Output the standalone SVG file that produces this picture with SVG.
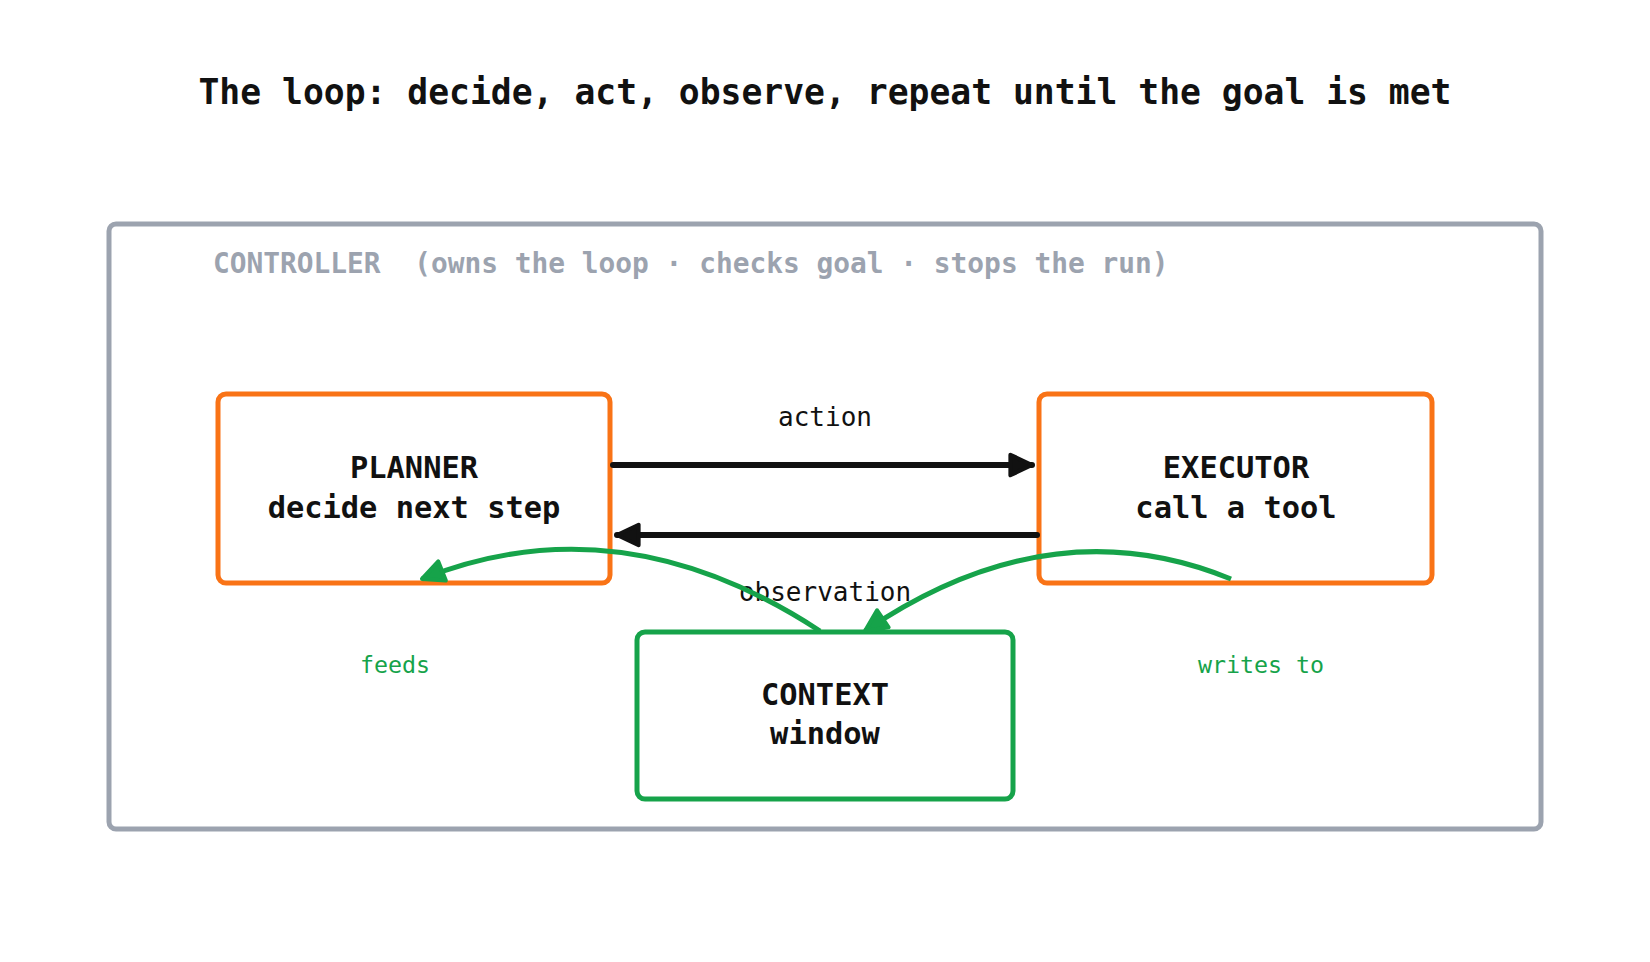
<svg xmlns="http://www.w3.org/2000/svg" width="1650" height="962" viewBox="0 0 1650 962">
<style>
text{font-family:"DejaVu Sans Mono","Liberation Mono",monospace;}
.title{font-size:34.7px;font-weight:bold;fill:#111;}
.ctl{font-size:27.85px;font-weight:bold;fill:#9ca3af;}
.node{font-size:30.4px;font-weight:bold;fill:#111;text-anchor:middle;}
.lbl{font-size:26px;fill:#111;text-anchor:middle;}
.glbl{font-size:23.3px;fill:#16a34a;text-anchor:middle;}
.obox{fill:#fff;stroke:#f97316;stroke-width:5;}
.gbox{fill:#fff;stroke:#16a34a;stroke-width:5;}
.blk{stroke:#111;stroke-width:6;fill:none;stroke-linecap:round;}
.grn{stroke:#16a34a;stroke-width:5;fill:none;}
</style>
<defs>
<marker id="ab" viewBox="0 0 10 10" refX="9" refY="5" markerUnits="userSpaceOnUse" markerWidth="27" markerHeight="27" orient="auto">
<path d="M1,1.2 L9,5 L1,8.8 z" fill="#111" stroke="#111" stroke-width="1.5" stroke-linejoin="round"/>
</marker>
<marker id="ag" viewBox="0 0 10 10" refX="9" refY="5" markerUnits="userSpaceOnUse" markerWidth="27" markerHeight="27" orient="auto">
<path d="M1,1.2 L9,5 L1,8.8 z" fill="#16a34a" stroke="#16a34a" stroke-width="1.5" stroke-linejoin="round"/>
</marker>
</defs>
<rect width="1650" height="962" fill="#fff"/>
<text class="title" x="825" y="104" text-anchor="middle">The loop: decide, act, observe, repeat until the goal is met</text>
<g id="controller">
<rect x="109" y="224" width="1432" height="605" rx="7" fill="none" stroke="#9ca3af" stroke-width="5"/>
<text class="ctl" x="213" y="273" xml:space="preserve">CONTROLLER  (owns the loop · checks goal · stops the run)</text>
</g>
<g id="planner">
<rect class="obox" x="218" y="394" width="392" height="189" rx="8"/>
<text class="node" x="414" y="478">PLANNER</text>
<text class="node" x="414" y="518">decide next step</text>
</g>
<g id="executor">
<rect class="obox" x="1039" y="394" width="393" height="189" rx="8"/>
<text class="node" x="1236" y="478">EXECUTOR</text>
<text class="node" x="1236" y="518">call a tool</text>
</g>
<g id="context">
<rect class="gbox" x="637" y="632" width="376" height="167" rx="8"/>
<text class="node" x="825" y="705">CONTEXT</text>
<text class="node" x="825" y="744">window</text>
</g>
<g id="connectors">
<line class="blk" x1="613" y1="465" x2="1032" y2="465" marker-end="url(#ab)"/>
<text class="lbl" x="825" y="426">action</text>
<line class="blk" x1="1037" y1="535" x2="617" y2="535" marker-end="url(#ab)"/>
<text class="lbl" x="825" y="601">observation</text>
<path class="grn" d="M820,631 Q620,500 422,579" marker-end="url(#ag)"/>
<text class="glbl" x="395" y="673">feeds</text>
<path class="grn" d="M1231,579 Q1050,505 865,631" marker-end="url(#ag)"/>
<text class="glbl" x="1261" y="673">writes to</text>
</g>
</svg>
